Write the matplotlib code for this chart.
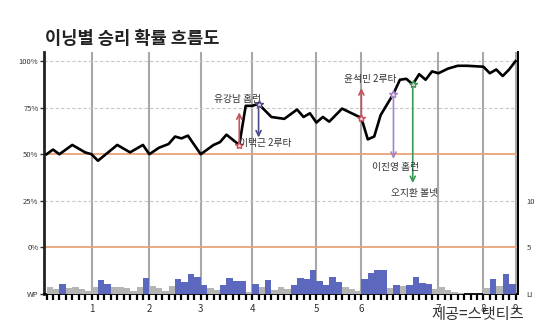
import matplotlib
matplotlib.use("Agg")
import matplotlib.pyplot as plt
import numpy as np

plt.rcParams['font.family'] = ['Noto Sans CJK KR', 'DejaVu Sans']

# win probability line (plate appearance index, WP %)
pa_x = [0, 1, 2, 4, 6, 7, 8, 11, 13, 15, 16, 17.5, 19, 20, 21, 22, 24, 26, 27, 28,
        30, 31, 32, 33, 35, 37, 39, 40, 41, 42, 43, 44, 46, 49, 50, 51, 52, 54, 55,
        56, 57, 58, 59, 60, 61, 62.5, 64, 65.5, 68, 69, 70, 71, 72, 73]
wp = [50, 52.5, 50, 55, 51, 50, 46.5, 55, 51, 55, 50, 53.5, 55.5, 59.5, 58.5, 60, 50, 55, 56.5, 60.5,
      55, 76, 76, 77, 70, 69, 74, 70, 72, 67, 70, 67.5, 74.5, 69.5, 58, 59.5, 71, 82.5, 90,
      90.5, 87.5, 93, 90, 94.5, 93.5, 96, 97.5, 97.5, 97, 93.5, 95.5, 92, 95.5, 100]

# leverage index per plate appearance
li = [0.78, 0.5, 1.03, 0.67, 0.78, 0.5, 0.32,
      0.78, 1.49, 1.06, 0.78, 0.78, 0.6, 0.35, 0.78, 1.67,
      0.85, 0.6, 0.32, 0.89, 1.56, 1.31, 2.1, 1.78,
      0.96, 0.67, 0.43, 0.96, 1.67, 1.42, 1.42, 0.18,
      1.03, 0.71, 1.49, 0.43, 0.71, 0.5, 0.96, 1.67, 1.56, 2.55,
      1.38, 0.96, 1.8, 1.31, 0.71, 0.5, 0.35,
      1.6, 2.2, 2.55, 2.55, 0.6, 0.96, 0.85, 0.96, 1.84, 1.13, 1.06, 0.5,
      0.7, 0.4, 0.15, 0.07, 0.02, 0.02, 0.02,
      0.6, 1.56, 0.85, 2.1, 1.06]

innings = ['1', '2', '3', '4', '5', '6', '7', '8', '9']
inning_pa = [7, 16, 24, 32, 42, 49, 61, 68, 73]

# key plays: label, PA, WP at marker, arrow end WP, label WP, label x
ev_label = ['유강남 홈런', '이택근 2루타', '윤석민 2루타', '이진영 홈런', '오지환 볼넷']
ev_pa = [30, 33, 49, 54, 57]
ev_wp = [55, 77, 69.5, 82.5, 87.5]
ev_end = [72.5, 59, 85.5, 47.5, 34.5]
ev_text_wp = [79.5, 56, 90.5, 43, 29]
ev_text_x = [29.7, 34.1, 50.4, 54.4, 57.3]
ev_color = ['#c8505a', '#4b4b8c', '#c8505a', '#a585c8', '#3a9a55']

fig = plt.figure(figsize=(5.5, 3.28), dpi=100)
ax = fig.add_axes([0.08, 0.104, 0.862, 0.738])
ax2 = ax.twinx()

ax.set_xlim(-0.4, 73.4)
ax.set_ylim(-25, 105)
ax2.set_ylim(0, 26)

# bars (leverage)
bar_colors = ['#5b68bd' if v > 0.92 else '#b5b5b5' for v in li]
ax2.bar(np.arange(len(li)), li, width=1.0, align='edge', color=bar_colors, zorder=2)

# grid
for p in inning_pa:
    ax.axvline(p, color='#a8a8a8', lw=1.5, zorder=1)
for y in [100, 75, 25]:
    ax.axhline(y, color='#c8c8c8', lw=0.8, ls=(0, (3, 2)), zorder=1)
for y in [50, 0]:
    ax.axhline(y, color='#e8a27a', lw=1.3, zorder=1)

ax.plot(pa_x, wp, color='black', lw=1.9, zorder=4)

for lab, x, y0, y1, ty, tx, c in zip(ev_label, ev_pa, ev_wp, ev_end, ev_text_wp, ev_text_x, ev_color):
    ax.annotate('', xy=(x, y1), xytext=(x, y0),
                arrowprops=dict(arrowstyle='->', color=c, lw=1.2, shrinkA=0, shrinkB=0,
                                mutation_scale=9), zorder=5)
    ax.plot([x], [y0], marker='*', ms=6, mfc='#f4d8e8', mec=c, mew=1, zorder=6)
    ax.text(tx, ty, lab, ha='center', va='center', fontsize=7, color='#333333', zorder=7)

# axes styling
ax.spines['top'].set_visible(False)
ax2.spines['top'].set_visible(False)
ax.spines['left'].set_linewidth(2)
ax.spines['left'].set_color('#222222')
ax.spines['right'].set_linewidth(1.3)
ax.spines['bottom'].set_linewidth(1.3)
ax2.spines['left'].set_visible(False)
ax2.spines['bottom'].set_visible(False)
ax2.spines['right'].set_linewidth(1.3)

ax.set_yticks([100, 75, 50, 25, 0, -25])
ax.set_yticklabels(['100%', '75%', '50%', '25%', '0%', 'WP'])
ax.tick_params(axis='y', labelsize=5.5, length=3, width=1, colors='#333333', pad=1)
ax2.set_yticks([0, 5, 10])
ax2.set_yticklabels(['LI', '5', '10'])
ax2.tick_params(axis='y', labelsize=5.5, length=0, colors='#333333', pad=6)

ax.set_xticks(inning_pa)
ax.set_xticklabels(innings)
ax.set_xticks(np.arange(0, 74), minor=True)
ax.tick_params(axis='x', which='both', length=4, width=1.6, direction='out', color='black')
ax.tick_params(axis='x', which='major', labelsize=7, colors='#333333', pad=3)
ax.tick_params(axis='x', which='major', color='black')

fig.text(0.082, 0.882, '이닝별 승리 확률 흐름도', fontsize=12.7, fontweight='bold', color='#222222',
         va='center', ha='left')
fig.text(0.952, 0.042, '제공=스탯티즈', fontsize=11, color='#333333', va='center', ha='right')

fig.savefig('out.png', dpi=100)
